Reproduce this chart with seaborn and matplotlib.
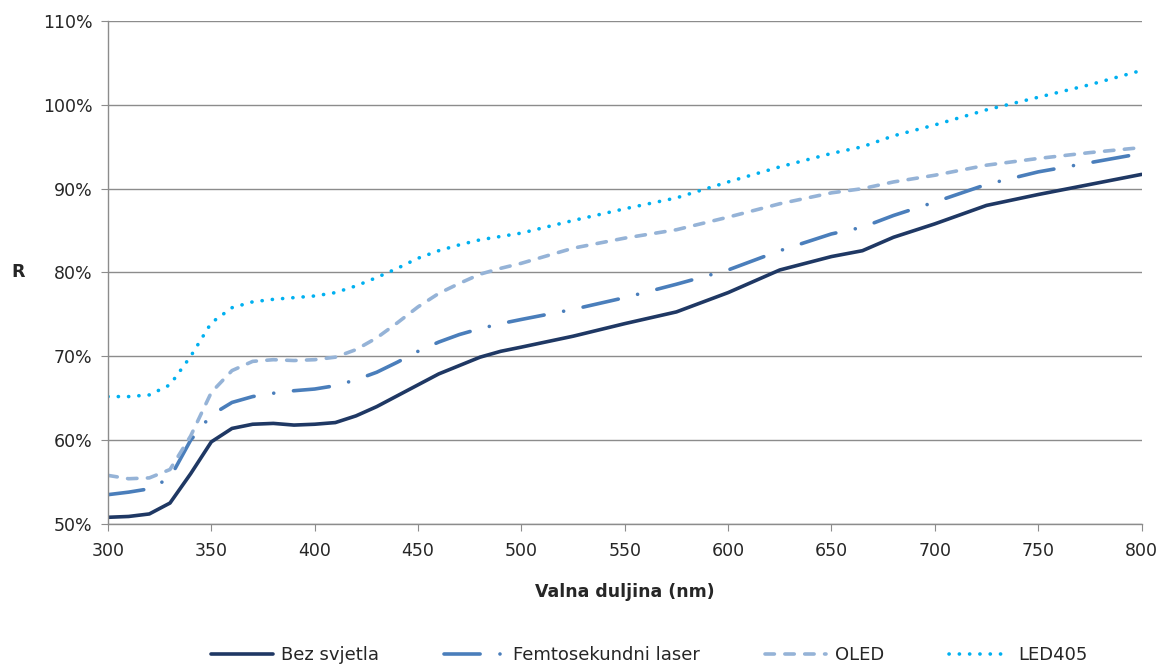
import pandas as pd
import matplotlib
matplotlib.use("Agg")
import matplotlib.pyplot as plt
import seaborn as sns

# Wavelengths (nm) and reflectance (%)
wavelength = [300, 310, 320, 330, 340, 350, 360, 370, 380, 390, 400, 410, 420, 430,
              440, 450, 460, 470, 480, 490, 500, 525, 550, 575, 600, 625, 650, 665,
              680, 700, 725, 750, 775, 800]

bez_svjetla = [50.8, 50.9, 51.2, 52.5, 56.0, 59.8, 61.4, 61.9, 62.0, 61.8, 61.9, 62.1,
               62.9, 64.0, 65.3, 66.6, 67.9, 68.9, 69.9, 70.6, 71.1, 72.4, 73.9, 75.3,
               77.6, 80.3, 81.9, 82.6, 84.2, 85.8, 88.0, 89.3, 90.5, 91.7]

femto = [53.5, 53.8, 54.2, 55.5, 60.0, 63.0, 64.5, 65.2, 65.6, 65.9, 66.1, 66.5,
         67.2, 68.1, 69.3, 70.6, 71.7, 72.6, 73.3, 73.9, 74.4, 75.6, 77.0, 78.6,
         80.3, 82.6, 84.6, 85.4, 86.8, 88.4, 90.5, 92.0, 93.1, 94.2]

oled = [55.8, 55.4, 55.5, 56.5, 60.5, 65.7, 68.3, 69.4, 69.6, 69.5, 69.6, 69.9,
        70.8, 72.2, 74.0, 75.9, 77.5, 78.7, 79.8, 80.5, 81.1, 82.9, 84.1, 85.1,
        86.6, 88.2, 89.5, 90.0, 90.8, 91.6, 92.8, 93.6, 94.3, 94.9]

led405 = [65.2, 65.2, 65.4, 66.6, 70.0, 74.0, 75.8, 76.5, 76.8, 77.0, 77.2, 77.6,
          78.4, 79.4, 80.5, 81.7, 82.6, 83.3, 83.9, 84.3, 84.7, 86.2, 87.6, 88.9,
          90.8, 92.6, 94.2, 95.0, 96.3, 97.6, 99.4, 100.9, 102.4, 104.1]

series_names = ["Bez svjetla", "Femtosekundni laser", "OLED", "LED405"]
series_values = [bez_svjetla, femto, oled, led405]
colors = ["#1F3864", "#4A7EBB", "#95B3D7", "#00B0F0"]
styles = ["-", (0, (10, 5.5, 0.01, 5.5)), (0, (2.6, 2.9)), (0, (0.05, 2.8))]

df = pd.DataFrame({"Valna duljina": wavelength})
for name, vals in zip(series_names, series_values):
    df[name] = vals

sns.set_style("white")
plt.rcParams["font.family"] = ["DejaVu Sans"]

fig = plt.figure(figsize=(11.66, 6.66), dpi=100)
ax = fig.add_axes([0.0926, 0.2132, 0.8864, 0.7553])

for name, c, ls in zip(series_names, colors, styles):
    sns.lineplot(data=df, x="Valna duljina", y=name, ax=ax, color=c, linestyle=ls,
                 linewidth=2.6, label=name, dash_capstyle="round")

ax.set_xlim(300, 800)
ax.set_ylim(50, 110)
ax.set_xticks(range(300, 801, 50))
ax.set_yticks(range(50, 111, 10))
ax.set_yticklabels([f"{v}%" for v in range(50, 111, 10)])
ax.tick_params(axis="both", labelsize=12.5, colors="#8C8C8C", length=5, direction="out",
               left=True, bottom=True, labelcolor="#262626")
ax.tick_params(axis="x", pad=8)
ax.tick_params(axis="y", pad=6)
ax.yaxis.grid(True, color="#8C8C8C", linewidth=1)
ax.xaxis.grid(False)
for side in ["top", "right"]:
    ax.spines[side].set_visible(False)
for side in ["left", "bottom"]:
    ax.spines[side].set_color("#8C8C8C")
    ax.spines[side].set_linewidth(1)

ax.set_xlabel("Valna duljina (nm)", fontsize=12.5, fontweight="bold", va="center")
ax.xaxis.set_label_coords(0.5, -0.135)
ax.set_ylabel("R", fontsize=12.5, fontweight="bold", rotation=0, va="center", ha="center")
ax.yaxis.set_label_coords(-0.087, 0.5)

ax.legend(loc="center", bbox_to_anchor=(0.557, 0.0165), bbox_transform=fig.transFigure,
          ncol=4, frameon=False, fontsize=13, handlelength=3.4, columnspacing=3.6,
          handletextpad=0.45, labelcolor="#262626")

fig.savefig("out.png", dpi=100)
